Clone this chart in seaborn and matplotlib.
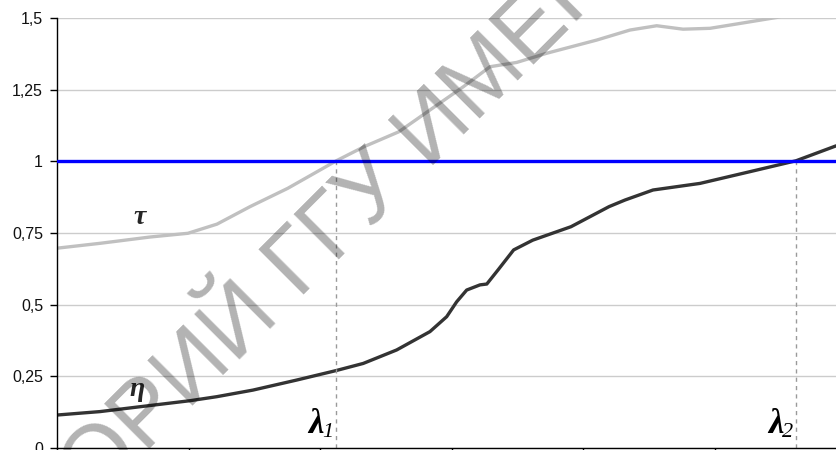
import matplotlib
matplotlib.use("Agg")
import matplotlib.pyplot as plt
import matplotlib.transforms as mtransforms
import numpy as np
import pandas as pd
import seaborn as sns

# Curve τ
tau_x = [0.000, 0.327, 0.707, 0.995, 1.216, 1.467, 1.754, 2.123, 2.333, 2.597,
         2.834, 3.087, 3.290, 3.493, 3.721, 4.101, 4.354, 4.557, 4.757, 4.962,
         5.190, 5.469, 5.920]
tau_y = [0.697, 0.714, 0.736, 0.749, 0.781, 0.842, 0.906, 1.002, 1.051, 1.103,
         1.179, 1.260, 1.330, 1.345, 1.377, 1.423, 1.458, 1.473, 1.461, 1.464,
         1.481, 1.502, 1.560]

# Curve η
eta_x = [0.000, 0.327, 0.631, 1.011, 1.214, 1.489, 1.821, 2.120, 2.327, 2.581,
         2.834, 2.961, 3.037, 3.113, 3.214, 3.266, 3.351, 3.470, 3.615, 3.906,
         4.195, 4.316, 4.529, 4.886, 5.266, 5.616, 5.920]
eta_y = [0.115, 0.127, 0.144, 0.165, 0.179, 0.202, 0.237, 0.270, 0.295, 0.342,
         0.406, 0.458, 0.510, 0.551, 0.569, 0.572, 0.621, 0.691, 0.725, 0.772,
         0.842, 0.865, 0.900, 0.923, 0.964, 1.002, 1.054]

level = 1.0
lambda_pos = [2.123, 5.616]
lambda_subs = ["1", "2"]
y_ticks = [0, 0.25, 0.5, 0.75, 1, 1.25, 1.5]
y_tick_labels = ["0", "0,25", "0,5", "0,75", "1", "1,25", "1,5"]
x_ticks = [0, 1, 2, 3, 4, 5, 6]

sns.set_theme(style="white")
plt.rcParams["font.family"] = ["Liberation Sans", "DejaVu Sans"]

fig = plt.figure(figsize=(8.36, 4.5), dpi=100)
ax = fig.add_axes([57 / 836, 2 / 450, 789.6 / 836, 430 / 450])

ax.set_xlim(0, 6)
ax.set_ylim(0, 1.5)
ax.set_yticks(y_ticks)
ax.set_yticklabels(y_tick_labels)
ax.set_xticks(x_ticks)
ax.set_xticklabels([])
ax.yaxis.grid(True, color="#cccccc", lw=1.0)
ax.xaxis.grid(False)
ax.set_axisbelow(True)

for side in ("top", "right"):
    ax.spines[side].set_visible(False)
for side in ("left", "bottom"):
    ax.spines[side].set_color("black")
    ax.spines[side].set_linewidth(1.0)
ax.tick_params(axis="y", direction="out", length=5, width=1, color="black",
               pad=5, labelsize=11.5, labelcolor="#111111", left=True)
ax.tick_params(axis="x", direction="out", length=5, width=1, color="black",
               bottom=True)

df_tau = pd.DataFrame({"x": tau_x, "y": tau_y})
df_eta = pd.DataFrame({"x": eta_x, "y": eta_y})
sns.lineplot(data=df_tau, x="x", y="y", ax=ax, color="#c0c0c0", lw=2.4,
             sort=False, estimator=None)
sns.lineplot(data=df_eta, x="x", y="y", ax=ax, color="#333333", lw=2.4,
             sort=False, estimator=None)
ax.axhline(level, color="#0000ff", lw=2.4, zorder=3)
ax.vlines(lambda_pos, 0, level, colors="#9a9a9a", linestyles=(0, (3, 3)),
          lw=1.0, zorder=2)
ax.set_xlabel("")
ax.set_ylabel("")

serif_bi = dict(family="Liberation Serif", style="italic", weight="bold")
ax.text(0.63, 0.805, "τ", fontsize=20, ha="center", va="center", **serif_bi)
ax.text(0.605, 0.205, "η", fontsize=20, ha="center", va="center", **serif_bi)

# λ markers: main letter left of the dashed line, subscript just after it
for xpos, sub in zip(lambda_pos, lambda_subs):
    t_main = mtransforms.offset_copy(ax.transData, fig=fig, x=-13, y=0,
                                     units="dots")
    ax.text(xpos, 0.052, "λ", fontsize=25, ha="right", va="baseline",
            color="black", transform=t_main, **serif_bi)
    t_sub = mtransforms.offset_copy(ax.transData, fig=fig, x=-14, y=0,
                                    units="dots")
    ax.text(xpos, 0.038, sub, fontsize=16, ha="left", va="baseline",
            family="Liberation Serif", style="italic", color="black",
            transform=t_sub)

# Repository watermark
fig.text(94 / 836, 1 - 504 / 450, "ОРИЙ ГГУ ИМЕНИ", fontsize=66,
         family="Liberation Sans", color="black", alpha=0.3, rotation=45,
         rotation_mode="anchor", ha="left", va="baseline", zorder=10)

fig.savefig("out.png", dpi=100)
